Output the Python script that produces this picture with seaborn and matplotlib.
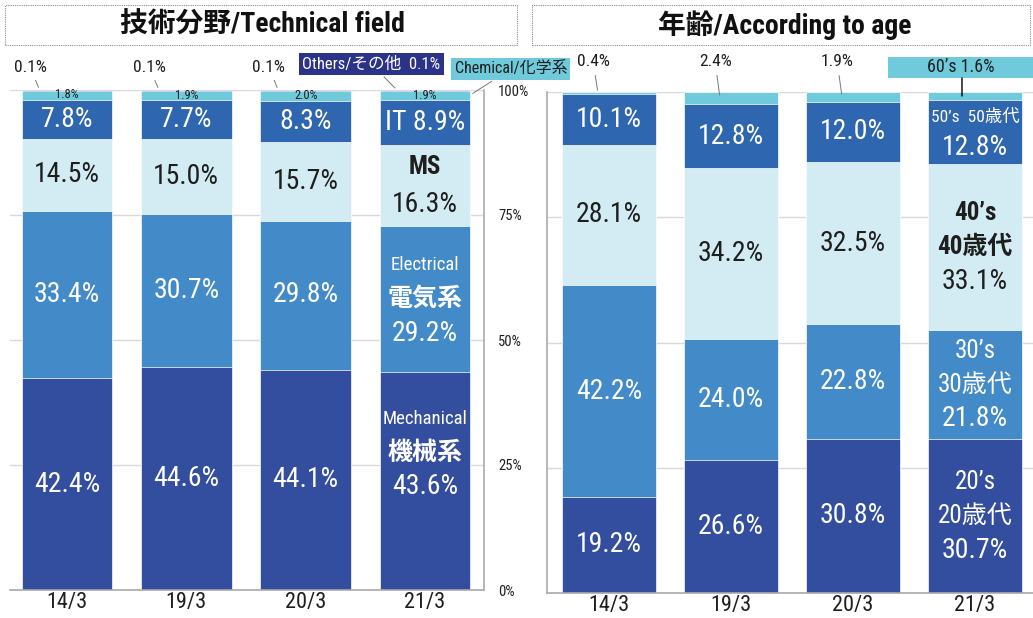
import numpy as np
import matplotlib
matplotlib.use("Agg")
import matplotlib.pyplot as plt
from matplotlib import font_manager
from matplotlib.patches import Rectangle
import seaborn as sns

periods = ["14/3", "19/3", "20/3", "21/3"]

# technical field, bottom -> top
mechanical = [42.4, 44.6, 44.1, 43.6]
electrical = [33.4, 30.7, 29.8, 29.2]
ms = [14.5, 15.0, 15.7, 16.3]
it = [7.8, 7.7, 8.3, 8.9]
chemical = [1.8, 1.9, 2.0, 1.9]
others = [0.1, 0.1, 0.1, 0.1]

# age, bottom -> top
age20 = [19.2, 26.6, 30.8, 30.7]
age30 = [42.2, 24.0, 22.8, 21.8]
age40 = [28.1, 34.2, 32.5, 33.1]
age50 = [10.1, 12.8, 12.0, 12.8]
age60 = [0.4, 2.4, 1.9, 1.6]

NAVY = "#344e9f"
BLUE = "#438ac8"
PALE = "#d3ecf3"
MID = "#2e66b0"
CYAN = "#6fcbdb"
BOXNAVY = "#2b3388"
DARK = "#1e1e1e"
GRID = "#d9d9d9"
NUM = 20  # size of the in-bar percentages

sns.set_theme(style="white")
names = {f.name for f in font_manager.fontManager.ttflist}
narrow = next((n for n in ["Liberation Sans Narrow", "Roboto Condensed", "DejaVu Sans Condensed"]
               if n in names), "Liberation Sans")
plt.rcParams["font.family"] = [narrow, "Noto Sans CJK JP", "DejaVu Sans"]


def stacked(ax, layers, colors, width):
    cum = np.cumsum(np.array(layers), axis=0)
    # draw the tallest cumulative layer first, smaller ones on top
    for top, c in reversed(list(zip(cum, colors))):
        sns.barplot(x=periods, y=top, color=c, width=width, saturation=1,
                    edgecolor="white", linewidth=0.5, ax=ax)
    return cum


def put(ax, x, y, lines, color, step=24.5):
    n = len(lines)
    for k, (t, s, w) in enumerate(lines):
        off = ((n - 1) / 2 - k) * step
        ax.annotate(t, (x, y), xytext=(0, off), textcoords="offset points",
                    ha="center", va="center", fontsize=s, fontweight=w, color=color)


def style(ax, xlim):
    ax.set_xlim(*xlim)
    ax.set_ylim(0, 100)
    ax.set_yticks([0, 25, 50, 75, 100])
    ax.set_axisbelow(True)
    ax.yaxis.grid(True, color=GRID, lw=1)
    ax.set_xlabel("")
    ax.set_ylabel("")
    ax.tick_params(axis="x", length=0, pad=1.5, labelsize=16, labelcolor=DARK)
    for s in ax.spines.values():
        s.set_color("#aaaaaa")
        s.set_linewidth(1.2)
    ax.spines["top"].set_visible(False)


fig = plt.figure(figsize=(10.33, 6.18), dpi=100)
axL = fig.add_axes([10 / 1033, 28 / 618, 474 / 1033, 500 / 618])
axR = fig.add_axes([547 / 1033, 25 / 618, 486 / 1033, 501 / 618])

# ---------------- left: technical field ----------------
tech = [mechanical, electrical, ms, it, chemical, others]
cumL = stacked(axL, tech, [NAVY, BLUE, PALE, MID, CYAN, BOXNAVY], 0.76)
style(axL, (-0.478, 3.495))
axL.spines["left"].set_visible(False)
axL.yaxis.tick_right()
axL.set_yticklabels(["0%", "25%", "50%", "75%", "100%"])
axL.tick_params(axis="y", length=0, pad=10, labelsize=10.5, labelcolor=DARK)

for i in range(4):
    mid = [cumL[k][i] - tech[k][i] / 2 for k in range(6)]
    if i < 3:
        put(axL, i, mid[0], [(f"{mechanical[i]:.1f}%", NUM, "normal")], "white")
        put(axL, i, mid[1], [(f"{electrical[i]:.1f}%", NUM, "normal")], "white")
        put(axL, i, mid[2], [(f"{ms[i]:.1f}%", NUM, "normal")], DARK)
        put(axL, i, mid[3], [(f"{it[i]:.1f}%", NUM, "normal")], "white")
        axL.annotate(f"{others[i]:.1f}%", xy=(i - 0.23, 100), xytext=(i - 0.31, 1.046),
                     textcoords=("data", "axes fraction"), ha="center", va="center",
                     fontsize=12.5, color=DARK, annotation_clip=False,
                     arrowprops=dict(arrowstyle="-", color="#777777", lw=0.7))
    else:
        put(axL, i, mechanical[i] * 0.63,
            [("Mechanical", 13.5, "normal"), ("機械系", 18, "bold"),
             (f"{mechanical[i]:.1f}%", NUM, "normal")], "white")
        put(axL, i, mid[1],
            [("Electrical", 13.5, "normal"), ("電気系", 18, "bold"),
             (f"{electrical[i]:.1f}%", NUM, "normal")], "white")
        put(axL, i, mid[2], [("MS", 18, "bold"), (f"{ms[i]:.1f}%", NUM, "normal")], DARK, step=27)
        put(axL, i, mid[3], [(f"IT {it[i]:.1f}%", NUM, "normal")], "white")
        axL.annotate(f"Others/その他  {others[i]:.1f}%", xy=(i - 0.235, 100), xytext=(i - 0.45, 1.052),
                     textcoords=("data", "axes fraction"), ha="center", va="center",
                     fontsize=12, color="white", annotation_clip=False,
                     bbox=dict(boxstyle="square,pad=0.2", fc=BOXNAVY, ec="none"),
                     arrowprops=dict(arrowstyle="-", color="#777777", lw=0.7))
        axL.annotate("Chemical/化学系", xy=(i + 0.38, 99.0), xytext=(i + 0.72, 1.042),
                     textcoords=("data", "axes fraction"), ha="center", va="center",
                     fontsize=11.5, color=DARK, annotation_clip=False,
                     bbox=dict(boxstyle="square,pad=0.2", fc=CYAN, ec="none"),
                     arrowprops=dict(arrowstyle="-", color="#777777", lw=0.7))
    axL.text(i, mid[4], f"{chemical[i]:.1f}%", ha="center", va="center",
             fontsize=9, color=DARK)

# ---------------- right: age ----------------
ages = [age20, age30, age40, age50, age60]
cumR = stacked(axR, ages, [NAVY, BLUE, PALE, MID, CYAN], 0.77)
style(axR, (-0.508, 3.475))
axR.spines["right"].set_visible(False)
axR.set_yticklabels([])
axR.tick_params(axis="y", length=0)

for i in range(4):
    mid = [cumR[k][i] - ages[k][i] / 2 for k in range(5)]
    if i < 3:
        put(axR, i, mid[0], [(f"{age20[i]:.1f}%", NUM, "normal")], "white")
        put(axR, i, mid[1], [(f"{age30[i]:.1f}%", NUM, "normal")], "white")
        put(axR, i, mid[2], [(f"{age40[i]:.1f}%", NUM, "normal")], DARK)
        put(axR, i, mid[3], [(f"{age50[i]:.1f}%", NUM, "normal")], "white")
        axR.annotate(f"{age60[i]:.1f}%", xy=(i - 0.09, mid[4]), xytext=(i - 0.13, 1.06),
                     textcoords=("data", "axes fraction"), ha="center", va="center",
                     fontsize=12.5, color=DARK, annotation_clip=False,
                     arrowprops=dict(arrowstyle="-", color="#777777", lw=0.7))
    else:
        put(axR, i, mid[0], [("20’s", 18, "normal"), ("20歳代", 18, "normal"),
                             (f"{age20[i]:.1f}%", NUM, "normal")], "white")
        put(axR, i, mid[1], [("30’s", 18, "normal"), ("30歳代", 18, "normal"),
                             (f"{age30[i]:.1f}%", NUM, "normal")], "white")
        put(axR, i, mid[2], [("40’s", 18, "bold"), ("40歳代", 18, "bold"),
                             (f"{age40[i]:.1f}%", NUM, "normal")], DARK)
        put(axR, i, mid[3], [("50’s  50歳代", 12.5, "normal"),
                             (f"{age50[i]:.1f}%", NUM, "normal")], "white", step=22)
        tr = axR.get_xaxis_transform()
        axR.add_patch(Rectangle((i - 0.713, 1.028), 1.19, 0.042, transform=tr,
                                fc=CYAN, ec="none", clip_on=False))
        axR.text(i - 0.12, 1.049, f"60’s {age60[i]:.1f}%", transform=tr, ha="center",
                 va="center", fontsize=13, color=DARK)
        axR.annotate("", xy=(i - 0.107, 99.2), xytext=(i - 0.107, 1.028),
                     textcoords=("data", "axes fraction"), annotation_clip=False,
                     arrowprops=dict(arrowstyle="-", color="black", lw=1,
                                     shrinkA=0, shrinkB=0))

# ---------------- titles in dotted boxes ----------------
for x0, w, xc, title in [(5, 512, 262, "技術分野/Technical field"),
                         (532, 498, 785, "年齢/According to age")]:
    fig.add_artist(Rectangle((x0 / 1033, 1 - 45 / 618), w / 1033, 40 / 618,
                             transform=fig.transFigure, fill=False, ec="#8c8c8c",
                             lw=0.8, ls=(0, (1, 1))))
    fig.text(xc / 1033, 1 - 25 / 618, title, ha="center", va="center",
             fontsize=20, fontweight="bold", color="#111111")

fig.savefig("out.png", dpi=100)
